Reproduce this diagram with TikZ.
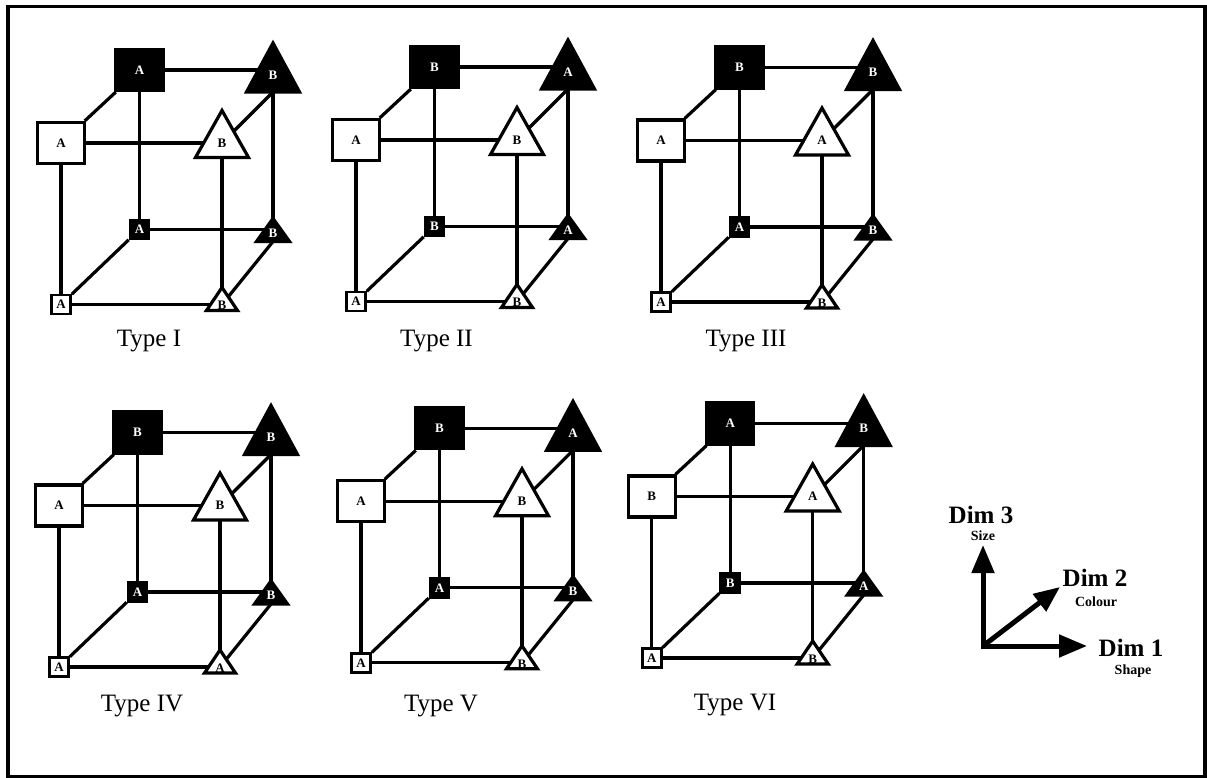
\documentclass[tikz,border=0pt]{standalone}
\usepackage{fontspec}
\setmainfont{Liberation Serif}
\usetikzlibrary{arrows.meta}
\pgfdeclarelayer{bg}
\pgfdeclarelayer{mid}
\pgfsetlayers{bg,mid,main}

\tikzset{
  conn/.style={draw=black, line width=3.2pt},
  lett/.style={font=\fontsize{13}{15}\selectfont\bfseries, inner sep=0pt},
  wht/.style={fill=white, text=black},
  blk/.style={fill=black, text=white},
  bigsq/.style={draw=black, line width=3.2pt, minimum width=47pt, minimum height=41pt, inner sep=0pt, lett},
  smsq/.style={draw=black, line width=2.7pt, minimum width=19pt, minimum height=19pt, inner sep=0pt, lett},
  trinode/.style={shape=rectangle, draw=none, fill=none, inner sep=0pt, minimum size=0pt},
  triline/.style={draw=black, line width=3.2pt, line join=miter},
  typelab/.style={font=\fontsize{25}{30}\selectfont, anchor=base, inner sep=0pt},
  dimlab/.style={font=\fontsize{25}{30}\selectfont\bfseries, anchor=base, inner sep=0pt},
  sublab/.style={font=\fontsize{14}{16}\selectfont\bfseries, anchor=base, inner sep=0pt},
  legline/.style={line width=5pt, line join=miter},
}

% name, x, y, up, down, halfwidth, colour style, letter, letter shift
\newcommand{\tri}[9]{%
  \node[trinode, label={[lett,#7,fill=none,yshift=#9]center:#8}] (#1) at (#2,#3) {};
  \coordinate (#1-b) at (#2,{#3+#5});
  \begin{pgfonlayer}{mid}
    \filldraw[triline,#7] (#2,{#3-#4}) -- ({#2+#6},{#3+#5}) -- ({#2-#6},{#3+#5}) -- cycle;
  \end{pgfonlayer}
}

% prefix, ftl, btl, btr, ftr, bbl, bbr, fbl, fbr
\newcommand{\cubeD}[9]{%
  \node[bigsq,wht] (#1ftl) at (61,143) {#2};
  \node[bigsq,blk] (#1btl) at (139.5,70) {#3};
  \tri{#1btr}{273}{70}{27}{22}{26.5}{blk}{#4}{-5pt}
  \tri{#1ftr}{222}{143}{32.5}{14.5}{26.5}{wht}{#5}{0pt}
  \node[smsq,blk] (#1bbl) at (139.5,229.5) {#6};
  \tri{#1bbr}{273}{229.5}{11}{12}{16.5}{blk}{#7}{-3.5pt}
  \node[smsq,wht] (#1fbl) at (61,304.5) {#8};
  \tri{#1fbr}{222}{304.5}{17}{6}{15.5}{wht}{#9}{-1pt}
  \begin{pgfonlayer}{bg}
    \draw[conn] (#1ftl) -- (#1btl);
    \draw[conn] (#1btl) -- (#1btr);
    \draw[conn] (#1ftl) -- (#1ftr);
    \draw[conn] (#1ftr) -- (#1btr-b);
    \draw[conn] (#1ftl) -- (#1fbl);
    \draw[conn] (#1btl) -- (#1bbl);
    \draw[conn] (#1ftr) -- (#1fbr);
    \draw[conn] (#1btr) -- (#1bbr);
    \draw[conn] (#1fbl) -- (#1fbr);
    \draw[conn] (#1bbl) -- (#1bbr);
    \draw[conn] (#1fbl) -- (#1bbl);
    \draw[conn] (#1fbr) -- (#1bbr-b);
  \end{pgfonlayer}
}

\begin{document}
\begin{tikzpicture}[x=1pt, y=-1pt]
  \useasboundingbox (0,0) rectangle (1207,778);
  \begin{pgfonlayer}{bg}
    \fill[white] (0,0) rectangle (1207,778);
  \end{pgfonlayer}
  \draw[line width=3.5pt] (8,6.5) rectangle (1205,776.5);

  \begin{scope}[shift={(0,0)}]
    \cubeD{a}{A}{A}{B}{B}{A}{B}{A}{B}
  \end{scope}
  \begin{scope}[shift={(295,-3)}]
    \cubeD{b}{A}{B}{A}{B}{B}{A}{A}{B}
  \end{scope}
  \begin{scope}[shift={(600,-2.5)}]
    \cubeD{c}{A}{B}{B}{A}{A}{B}{A}{B}
  \end{scope}
  \begin{scope}[shift={(-2,362.5)}]
    \cubeD{d}{A}{B}{B}{B}{A}{B}{A}{A}
  \end{scope}
  \begin{scope}[shift={(300,358.3)}]
    \cubeD{e}{A}{B}{A}{B}{A}{B}{A}{B}
  \end{scope}
  \begin{scope}[shift={(590.7,353.5)}]
    \cubeD{f}{B}{A}{B}{A}{B}{A}{A}{B}
  \end{scope}

  \node[typelab] (t1) at (149,346.5) {Type I};
  \node[typelab] (t2) at (436.5,346.5) {Type II};
  \node[typelab] (t3) at (746,346.5) {Type III};
  \node[typelab] (t4) at (142,711) {Type IV};
  \node[typelab] (t5) at (441,711.5) {Type V};
  \node[typelab] (t6) at (735,710.5) {Type VI};

  % legend
  \coordinate (lo) at (983,646);
  \coordinate (l1) at (1087,646);
  \coordinate (l3) at (983,545);
  \coordinate (l2) at (1060,587);
  \draw[legline, {Triangle[length=28pt,width=22pt]}-{Triangle[length=28pt,width=22pt]}] (l3) -- (lo) -- (l1);
  \draw[legline, -{Triangle[length=26pt,width=21pt]}] (lo) -- (l2);
  \node[dimlab] (dim3) at (981,523) {Dim 3};
  \node[sublab] (size) at (983,540) {Size};
  \node[dimlab] (dim2) at (1095,586) {Dim 2};
  \node[sublab] (colour) at (1096,606.5) {Colour};
  \node[dimlab] (dim1) at (1131,656) {Dim 1};
  \node[sublab] (shape) at (1133,674.5) {Shape};
\end{tikzpicture}
\end{document}
